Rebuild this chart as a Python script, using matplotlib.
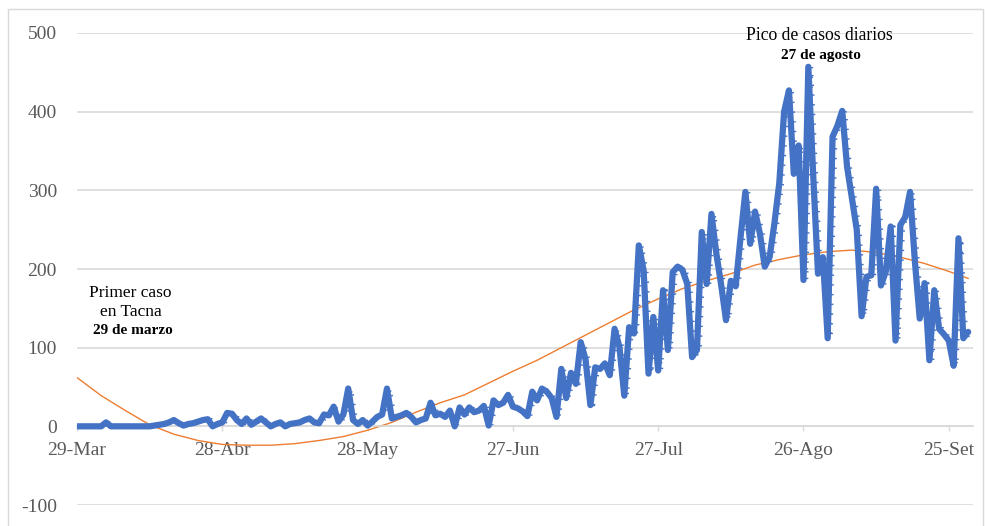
import matplotlib
matplotlib.use("Agg")
import matplotlib.pyplot as plt
import matplotlib.transforms as mtransforms
from matplotlib.patches import Rectangle

# ---------------- data ----------------
cases = [
    0, 0, 0, 0, 0, 0, 5, 0, 0, 0,            # 0-9
    0, 0, 0, 0, 0, 0, 1, 2, 3, 5,            # 10-19
    8, 4, 1, 3, 4, 6, 8, 9, 0, 3,            # 20-29
    5, 17, 16, 8, 3, 10, 2, 6, 10, 5,        # 30-39
    0, 3, 5, 0, 3, 4, 5, 8, 10, 5,           # 40-49
    4, 15, 14, 25, 6, 15, 48, 8, 3, 8,       # 50-59
    1, 6, 12, 15, 48, 10, 12, 14, 17, 12,    # 60-69
    5, 8, 10, 30, 14, 16, 12, 20, 0, 24,     # 70-79
    15, 24, 18, 20, 26, 1, 33, 27, 30, 40,   # 80-89
    25, 23, 19, 13, 44, 33, 48, 44, 36, 12,  # 90-99
    73, 36, 68, 54, 107, 85, 27, 75, 73, 80, # 100-109
    65, 124, 101, 39, 126, 118, 230, 198, 67, 139,   # 110-119
    71, 173, 97, 196, 203, 199, 181, 88, 97, 247,    # 120-129
    181, 270, 220, 180, 135, 185, 178, 240, 298, 232, # 130-139
    273, 245, 203, 215, 258, 309, 400, 427, 321, 357, # 140-149
    186, 457, 320, 194, 215, 112, 368, 382, 401, 330, # 150-159
    290, 250, 140, 190, 192, 302, 179, 197, 254, 109, # 160-169
    256, 266, 298, 210, 137, 182, 84, 173, 124, 117,  # 170-179
    109, 77, 239, 112, 120,                           # 180-184
]
days = list(range(len(cases)))

trend_days = [0, 5, 10, 15, 20, 25, 30, 35, 40, 45, 50, 55, 60, 65, 70, 75, 80, 85,
              90, 95, 100, 105, 110, 115, 120, 125, 130, 135, 140, 145, 150, 155,
              160, 165, 170, 175, 180, 184]
trend_vals = [62, 39, 20, 2, -10, -18, -23, -24, -24, -22, -18, -13, -5, 5, 18, 30, 40, 55,
              70, 84, 100, 116, 132, 148, 162, 175, 185, 194, 205, 212, 218, 222,
              224, 221, 215, 207, 197, 188]

tick_days = [0, 30, 60, 90, 120, 150, 180]
tick_labels = ["29-Mar", "28-Abr", "28-May", "27-Jun", "27-Jul", "26-Ago", "25-Set"]
y_ticks = [-100, 0, 100, 200, 300, 400, 500]

# ---------------- style ----------------
BLUE = "#4472C4"
ORANGE = "#ED7D31"
GRID = "#D9D9D9"
TXT = "#595959"
plt.rcParams["font.family"] = ["Liberation Serif", "DejaVu Serif"]

W, H = 985, 526
fig = plt.figure(figsize=(W / 100, H / 100), dpi=100)
ax = fig.add_axes([77 / W, 21 / H, 896 / W, 472 / H])

ax.set_xlim(0, 185)
ax.set_ylim(-100, 500)

ax.set_yticks(y_ticks)
ax.set_yticklabels([str(v) for v in y_ticks])
ax.yaxis.grid(True, color=GRID, lw=1.2)
ax.set_axisbelow(True)

for s in ["left", "right", "top"]:
    ax.spines[s].set_visible(False)
ax.spines["bottom"].set_position(("data", 0))
ax.spines["bottom"].set_color(GRID)
ax.spines["bottom"].set_linewidth(1.2)

ax.set_xticks(tick_days)
ax.set_xticklabels(tick_labels)
ax.tick_params(axis="x", direction="out", length=3.5, width=1, color=GRID,
               labelsize=14, labelcolor=TXT, pad=8)
ax.tick_params(axis="y", length=0, labelsize=14, labelcolor=TXT, pad=14.4)

# trend line
ax.plot(trend_days, trend_vals, color=ORANGE, lw=1.0, zorder=2)

# main series
ax.plot(days, cases, color=BLUE, lw=4.5, solid_joinstyle="round",
        solid_capstyle="round", zorder=3)

# dotted companion series (slightly offset)
off = mtransforms.offset_copy(ax.transData, fig=fig, x=3.5, y=0, units="dots")
ax.plot(days, cases, color=BLUE, lw=2.0, linestyle=(0, (0.5, 3.0)),
        transform=off, zorder=2.5)

# annotations
ax.text(10.9, 170, "Primer caso", ha="center", va="center", fontsize=12.5, color="black")
ax.text(11.2, 145, "en Tacna", ha="center", va="center", fontsize=12.5, color="black")
ax.text(11.5, 122, "29 de marzo", ha="center", va="center", fontsize=11,
        fontweight="bold", color="black")
ax.text(153.2, 497, "Pico de casos diarios", ha="center", va="center",
        fontsize=12.7, color="black")
ax.text(153.5, 471, "27 de agosto", ha="center", va="center", fontsize=11,
        fontweight="bold", color="black")

# outer chart border
fig.patches.append(Rectangle((8 / W, -0.01), (983 - 8) / W, (H - 8.5) / H + 0.01,
                             transform=fig.transFigure, fill=False,
                             edgecolor=GRID, lw=1.0))

fig.savefig("out.png", dpi=100)
